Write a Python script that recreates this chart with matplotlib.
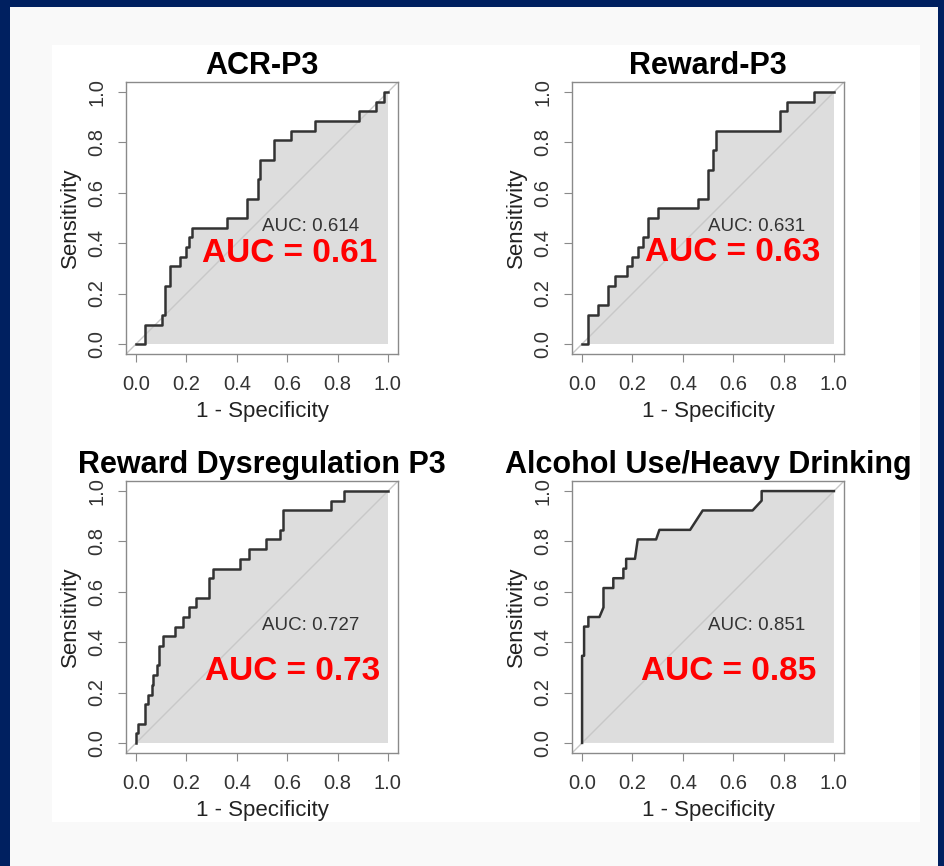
import matplotlib
matplotlib.use("Agg")
import matplotlib.pyplot as plt
from matplotlib.patches import Rectangle

plt.rcParams['font.family'] = ['Liberation Sans', 'DejaVu Sans']

# ---------- ROC data (1 - specificity, sensitivity) ----------
titles = ["ACR-P3", "Reward-P3", "Reward Dysregulation P3", "Alcohol Use/Heavy Drinking"]
auc_exact = ["0.614", "0.631", "0.727", "0.851"]
auc_round = ["0.61", "0.63", "0.73", "0.85"]

fpr_acr = [0, 0.036, 0.036, 0.103, 0.103, 0.116, 0.116, 0.133, 0.133, 0.173, 0.173, 0.20, 0.20,
           0.209, 0.209, 0.223, 0.223, 0.36, 0.36, 0.44, 0.44, 0.483, 0.483, 0.493, 0.493, 0.549,
           0.549, 0.616, 0.616, 0.709, 0.709, 0.885, 0.885, 0.952, 0.952, 0.983, 0.983, 1.0]
tpr_acr = [0, 0, 0.077, 0.077, 0.115, 0.115, 0.231, 0.231, 0.308, 0.308, 0.346, 0.346, 0.385,
           0.385, 0.423, 0.423, 0.462, 0.462, 0.5, 0.5, 0.577, 0.577, 0.654, 0.654, 0.731, 0.731,
           0.808, 0.808, 0.846, 0.846, 0.885, 0.885, 0.923, 0.923, 0.962, 0.962, 1.0, 1.0]

fpr_rew = [0, 0.025, 0.025, 0.065, 0.065, 0.104, 0.104, 0.131, 0.131, 0.177, 0.177, 0.197, 0.197,
           0.224, 0.224, 0.243, 0.243, 0.263, 0.263, 0.303, 0.303, 0.462, 0.462, 0.501, 0.501,
           0.519, 0.519, 0.532, 0.532, 0.786, 0.786, 0.812, 0.812, 0.922, 0.922, 1.0]
tpr_rew = [0, 0, 0.115, 0.115, 0.154, 0.154, 0.231, 0.231, 0.269, 0.269, 0.308, 0.308, 0.346,
           0.346, 0.385, 0.385, 0.423, 0.423, 0.5, 0.5, 0.538, 0.538, 0.577, 0.577, 0.692, 0.692,
           0.769, 0.769, 0.846, 0.846, 0.923, 0.923, 0.962, 0.962, 1.0, 1.0]

fpr_dys = [0, 0, 0.009, 0.009, 0.036, 0.036, 0.049, 0.049, 0.062, 0.062, 0.069, 0.069, 0.082,
           0.082, 0.093, 0.093, 0.106, 0.106, 0.155, 0.155, 0.185, 0.185, 0.212, 0.212, 0.238,
           0.238, 0.291, 0.291, 0.304, 0.304, 0.413, 0.413, 0.45, 0.45, 0.516, 0.516, 0.571,
           0.571, 0.585, 0.585, 0.772, 0.772, 0.825, 0.825, 1.0]
tpr_dys = [0, 0.038, 0.038, 0.077, 0.077, 0.154, 0.154, 0.192, 0.192, 0.231, 0.231, 0.269, 0.269,
           0.308, 0.308, 0.385, 0.385, 0.423, 0.423, 0.462, 0.462, 0.5, 0.5, 0.538, 0.538, 0.577,
           0.577, 0.654, 0.654, 0.692, 0.692, 0.731, 0.731, 0.769, 0.769, 0.808, 0.808, 0.846,
           0.846, 0.923, 0.923, 0.962, 0.962, 1.0, 1.0]

fpr_alc = [0, 0, 0.008, 0.008, 0.025, 0.025, 0.069, 0.085, 0.085, 0.124, 0.124, 0.164, 0.164,
           0.175, 0.175, 0.21, 0.221, 0.294, 0.307, 0.429, 0.479, 0.677, 0.713, 0.713, 1.0]
tpr_alc = [0, 0.346, 0.346, 0.462, 0.462, 0.5, 0.5, 0.538, 0.615, 0.615, 0.654, 0.654, 0.692,
           0.692, 0.731, 0.731, 0.808, 0.808, 0.846, 0.846, 0.923, 0.923, 0.962, 1.0, 1.0]

curves = [(fpr_acr, tpr_acr), (fpr_rew, tpr_rew), (fpr_dys, tpr_dys), (fpr_alc, tpr_alc)]
ticks = [0.0, 0.2, 0.4, 0.6, 0.8, 1.0]
tick_labels = ["0.0", "0.2", "0.4", "0.6", "0.8", "1.0"]

# ---------- figure / background ----------
W, H = 944, 866
fig = plt.figure(figsize=(W / 100, H / 100), dpi=100)
fig.patch.set_facecolor("#002060")
fig.patches.append(Rectangle((10 / W, 0), 928 / W, 859 / H, transform=fig.transFigure,
                             facecolor="#f9f9f9", edgecolor="none", zorder=-10))
fig.patches.append(Rectangle((52 / W, 1 - 822 / H), 868 / W, 777 / H, transform=fig.transFigure,
                             facecolor="white", edgecolor="none", zorder=-9))

# axes boxes in pixels: (left, top)
boxes = [(126, 82), (572, 82), (126, 481), (572, 481)]
text_pos = [(0.694, 0.466, 0.611, 0.359), (0.693, 0.466, 0.597, 0.363),
            (0.694, 0.468, 0.621, 0.283), (0.693, 0.468, 0.58, 0.283)]
size = 272

for i, (x, y) in enumerate(curves):
    left, top = boxes[i]
    ax = fig.add_axes([left / W, 1 - (top + size) / H, size / W, size / H])
    ax.set_xlim(-0.04, 1.04)
    ax.set_ylim(-0.04, 1.04)

    # shaded AUC polygon, chance diagonal, ROC staircase
    ax.fill(list(x) + [1.0, 0.0], list(y) + [0.0, 0.0], color="#dddddd", lw=0, zorder=1)
    ax.axline((0, 0), (1, 1), color="#c8c8c8", lw=1, zorder=2)
    ax.plot(x, y, color="#333333", lw=1.8, zorder=3)

    for s in ax.spines.values():
        s.set_color("#8a8a8a")
        s.set_linewidth(1)
    ax.set_xticks(ticks)
    ax.set_xticklabels(tick_labels)
    ax.set_yticks(ticks)
    ax.set_yticklabels(tick_labels, rotation=90, va="center")
    ax.tick_params(colors="#8a8a8a", labelcolor="#333333", labelsize=14.5, length=6)
    ax.tick_params(axis="x", pad=9)
    ax.tick_params(axis="y", pad=8)

    ax.set_xlabel("1 - Specificity", fontsize=16, color="#222222", labelpad=5)
    ax.set_ylabel("Sensitivity", fontsize=16, color="#222222", labelpad=5)
    ax.set_title(titles[i], fontsize=22, fontweight="bold", pad=6)

    tx, ty, rx, ry = text_pos[i]
    ax.text(tx, ty, "AUC: " + auc_exact[i], fontsize=13.5, color="#333333",
            ha="center", va="center", zorder=4)
    ax.text(rx, ry, "AUC = " + auc_round[i], fontsize=24, fontweight="bold", color="#ff0000",
            ha="center", va="center", zorder=4)

plt.savefig("out.png", dpi=100, facecolor=fig.get_facecolor())
